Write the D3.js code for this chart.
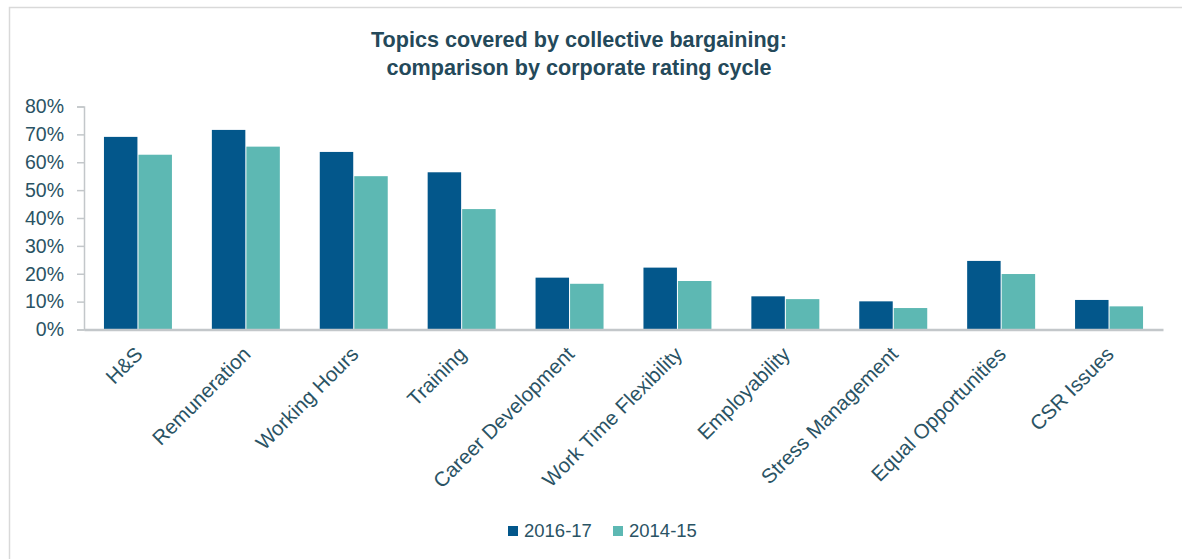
<!DOCTYPE html>
<html>
<head>
<meta charset="utf-8">
<script src="https://cdn.jsdelivr.net/npm/d3@7"></script>
<style>
  html, body { margin: 0; padding: 0; background: #ffffff; }
  svg { display: block; font-family: "Liberation Sans", Arial, sans-serif; }
</style>
</head>
<body>
<svg id="chart" width="1182" height="559"></svg>
<script>
// Topics covered by collective bargaining, by rating cycle
const categories = ["H&S", "Remuneration", "Working Hours", "Training", "Career Development",
  "Work Time Flexibility", "Employability", "Stress Management", "Equal Opportunities", "CSR Issues"];
const seriesNames = ["2016-17", "2014-15"];
const values2016 = [0.691, 0.716, 0.637, 0.564, 0.186, 0.222, 0.119, 0.101, 0.246, 0.106];
const values2014 = [0.627, 0.656, 0.550, 0.432, 0.164, 0.174, 0.109, 0.077, 0.199, 0.083];
const yTicks = [0, 0.1, 0.2, 0.3, 0.4, 0.5, 0.6, 0.7, 0.8];

const colors = { "2016-17": "#03578b", "2014-15": "#5db8b3" };
const textColor = "#2a5364";

const svg = d3.select("#chart");

// outer frame
svg.append("rect")
  .attr("x", 9.5).attr("y", 7.5)
  .attr("width", 1300).attr("height", 700)
  .attr("fill", "none").attr("stroke", "#d9d9d9").attr("stroke-width", 1.5);

// title
const title = svg.append("text")
  .attr("text-anchor", "middle")
  .attr("font-weight", "bold")
  .attr("font-size", 21.6)
  .attr("fill", "#24495a");
title.append("tspan").attr("x", 579).attr("y", 47).text("Topics covered by collective bargaining:");
title.append("tspan").attr("x", 579).attr("y", 75).text("comparison by corporate rating cycle");

const plot = { left: 84, right: 1163, top: 106.5, bottom: 329.5 };

const x = d3.scaleBand()
  .domain(categories)
  .range([plot.left, plot.right])
  .paddingInner(0.37)
  .paddingOuter(0.185);

const xs = d3.scaleBand()
  .domain(seriesNames)
  .range([0, x.bandwidth()])
  .paddingInner(0.03);

const y = d3.scaleLinear()
  .domain([0, 0.8])
  .range([plot.bottom, plot.top]);

// bars
const rows = categories.map((c, i) => ({ cat: c, vals: [
  { s: "2016-17", v: values2016[i] },
  { s: "2014-15", v: values2014[i] }
]}));

const groups = svg.append("g").selectAll("g")
  .data(rows).join("g")
  .attr("transform", d => `translate(${x(d.cat)},0)`);

groups.selectAll("rect")
  .data(d => d.vals).join("rect")
  .attr("x", d => xs(d.s))
  .attr("width", xs.bandwidth())
  .attr("y", d => y(d.v))
  .attr("height", d => y(0) - y(d.v))
  .attr("fill", d => colors[d.s]);

// y axis
const yAxis = svg.append("g")
  .attr("transform", `translate(${plot.left},0)`)
  .call(d3.axisLeft(y).tickValues(yTicks).tickFormat(d3.format(".0%")).tickSize(7).tickPadding(13));
yAxis.select(".domain").attr("stroke", "#c3c7ca").attr("stroke-width", 1.5);
yAxis.selectAll(".tick line").attr("stroke", "#c3c7ca").attr("stroke-width", 1.5);
yAxis.selectAll(".tick text")
  .attr("font-size", 19.5).attr("fill", textColor)
  .attr("font-family", "Liberation Sans, Arial, sans-serif");

// x axis
const xAxis = svg.append("g")
  .attr("transform", `translate(0,${plot.bottom})`)
  .call(d3.axisBottom(x).tickSize(0).tickSizeOuter(0));
xAxis.select(".domain").attr("stroke", "#c3c7ca").attr("stroke-width", 2.5);
xAxis.selectAll(".tick text")
  .attr("font-size", 20.5).attr("fill", textColor)
  .attr("font-family", "Liberation Sans, Arial, sans-serif")
  .attr("text-anchor", "end")
  .attr("dy", 0)
  .attr("y", 0)
  .attr("transform", "translate(6,26) rotate(-45)");

// legend
const legend = svg.append("g").attr("transform", "translate(508,526)");
const items = [{ s: "2016-17", x: 0 }, { s: "2014-15", x: 105 }];
const li = legend.selectAll("g").data(items).join("g")
  .attr("transform", d => `translate(${d.x},0)`);
li.append("rect").attr("width", 10).attr("height", 10).attr("fill", d => colors[d.s]);
li.append("text").attr("x", 16).attr("y", 10.5)
  .attr("font-size", 18.5).attr("fill", textColor).text(d => d.s);
</script>
</body>
</html>
